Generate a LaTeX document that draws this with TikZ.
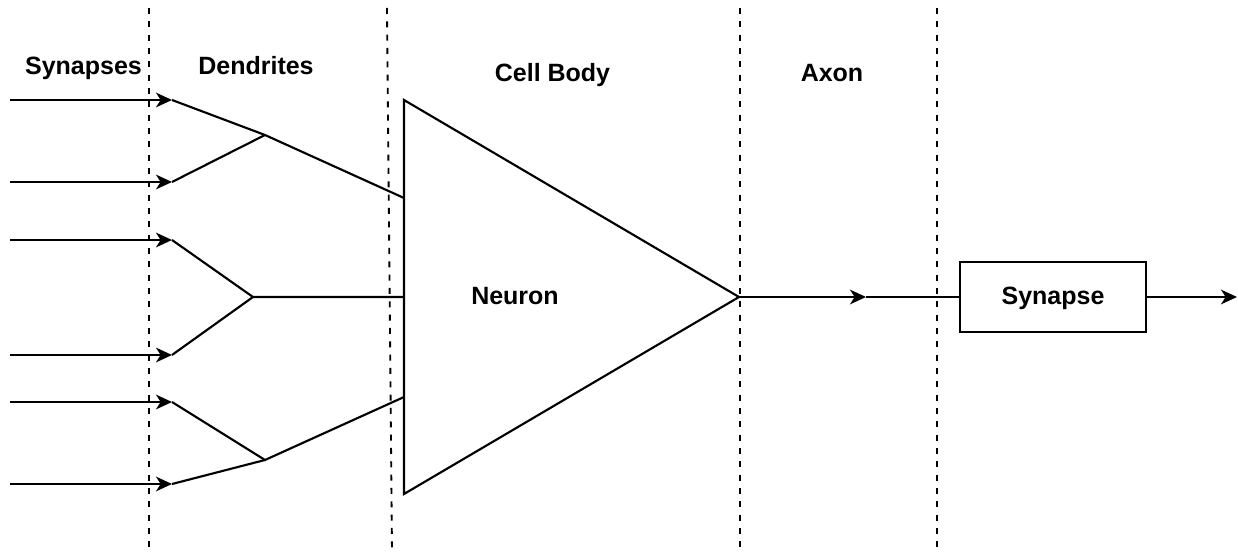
\documentclass[tikz,border=0pt]{standalone}
\usepackage{fontspec}
\setmainfont{Liberation Sans}
\usetikzlibrary{arrows.meta}
\begin{document}
\begin{tikzpicture}[x=0.75pt,y=-0.75pt,
  line width=1.6pt, line join=miter,
  lbl/.style={font=\fontsize{18.75}{22}\selectfont\bfseries, inner sep=0pt, anchor=base},
  divider/.style={line width=1.4pt, dash pattern=on 4.5pt off 5.5pt},
  feed/.style={-{Stealth[length=12pt,width=11pt,inset=3.5pt]}},
  wire/.style={line width=1.6pt},
  boxnode/.style={draw, line width=1.6pt, minimum width=139.5pt, minimum height=52pt,
    inner sep=0pt, font=\fontsize{18.75}{22}\selectfont\bfseries}]
\useasboundingbox (0,0) rectangle (1238,555);

% section dividers
\coordinate (v1a) at (149,8);   \coordinate (v1b) at (149,552);
\coordinate (v2a) at (387,8);   \coordinate (v2b) at (392,552);
\coordinate (v3a) at (740,8);   \coordinate (v3b) at (740,552);
\coordinate (v4a) at (937,8);   \coordinate (v4b) at (937,552);
\foreach \v in {1,...,4} \draw[divider] (v\v a) -- (v\v b);

% section titles
\node[lbl] (tSyn)  at (83.5,75) {Synapses};
\node[lbl] (tDen)  at (256,75)  {Dendrites};
\node[lbl] (tCell) at (552.5,82) {Cell Body};
\node[lbl] (tAxon) at (832,82)  {Axon};

% incoming synaptic inputs
\foreach \i/\y in {1/100,2/182,3/240,4/355,5/402,6/484}{
  \coordinate (s\i) at (10,\y);
  \coordinate (d\i) at (172,\y);
}
\foreach \i in {1,...,6} \draw[feed] (s\i) -- (d\i);

% dendrite junctions and entry points into the cell body
\coordinate (j1) at (265,135);
\coordinate (j2) at (253,297);
\coordinate (j3) at (265,460);
\coordinate (e1) at (404,198);
\coordinate (e2) at (404,297);
\coordinate (e3) at (404,397);

\draw[wire] (d1) -- (j1) -- (e1);
\draw[wire] (d2) -- (j1);
\draw[wire] (d3) -- (j2) -- (e2);
\draw[wire] (d4) -- (j2);
\draw[wire] (d5) -- (j3) -- (e3);
\draw[wire] (d6) -- (j3);

% cell body
\coordinate (cTop) at (404,100);
\coordinate (cBot) at (404,494);
\coordinate (apex) at (739,297);
\draw[wire] (cTop) -- (apex) -- (cBot) -- cycle;
\node[lbl] (neuron) at (515,305) {Neuron};

% axon and output synapse
\coordinate (axmid) at (866,297);
\node[boxnode] (syn) at (1053,297) {};
\node[lbl] (synTxt) at (1053,305) {Synapse};
\coordinate (out) at (1237,297);
\draw[feed] (apex) -- (axmid);
\draw[wire] (axmid) -- (syn.west);
\draw[feed] (syn.east) -- (out);
\end{tikzpicture}
\end{document}
